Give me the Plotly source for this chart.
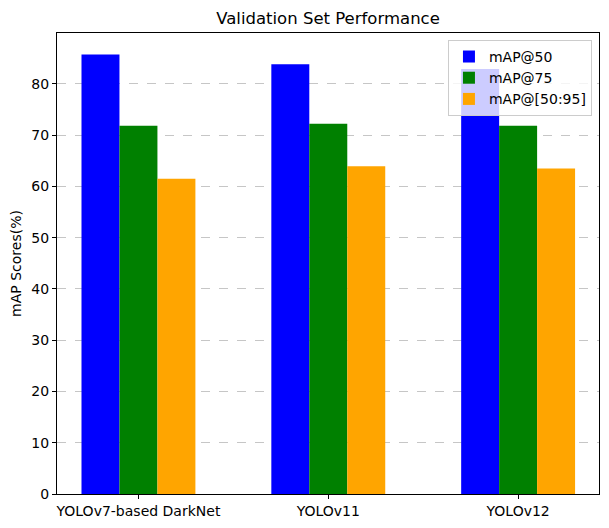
import plotly.graph_objects as go

models = ["YOLOv7-based DarkNet", "YOLOv11", "YOLOv12"]
map50 = [85.7, 83.8, 82.9]
map75 = [71.8, 72.2, 71.8]
map5095 = [61.5, 63.9, 63.5]
series_names = ["mAP@50", "mAP@75", "mAP@[50:95]"]
colors = ["blue", "green", "orange"]

fig = go.Figure()
for name, vals, col in zip(series_names, [map50, map75, map5095], colors):
    fig.add_trace(go.Bar(x=list(range(len(models))), y=vals, name=name,
                         marker=dict(color=col, line=dict(width=0))))

W, H = 601, 520
fig.update_layout(
    width=W, height=H,
    margin=dict(l=49, r=10, t=25, b=34, autoexpand=False),
    paper_bgcolor="white", plot_bgcolor="white",
    font=dict(family="DejaVu Sans", size=14, color="black"),
    title=dict(text="Validation Set Performance", x=(49 + 542 / 2) / W, xanchor="center",
               y=1 - 10 / H, yanchor="middle", font=dict(size=16.5)),
    barmode="group", bargap=0.4, bargroupgap=0,
    showlegend=True,
    legend=dict(x=0.987, y=0.985, xanchor="right", yanchor="top",
                bgcolor="rgba(255,255,255,0.8)", bordercolor="#cccccc", borderwidth=1,
                font=dict(size=14), tracegroupgap=2),
    xaxis=dict(tickmode="array", tickvals=list(range(len(models))), ticktext=models,
               range=[-0.429, 2.426], showline=True, linecolor="black", linewidth=1,
               mirror=True, ticks="outside", ticklen=4, tickcolor="black",
               showgrid=False, zeroline=False, automargin=False),
    yaxis=dict(range=[0, 89.9], dtick=10, showline=True, linecolor="black", linewidth=1,
               mirror=True, ticks="outside", ticklen=4, tickcolor="black",
               showgrid=True, gridcolor="rgba(160,160,160,0.6)", griddash="dash",
               gridwidth=1, zeroline=False, automargin=False,
               title=dict(text="mAP Scores(%)", standoff=8, font=dict(size=14))),
)

fig.write_html("out.html")
